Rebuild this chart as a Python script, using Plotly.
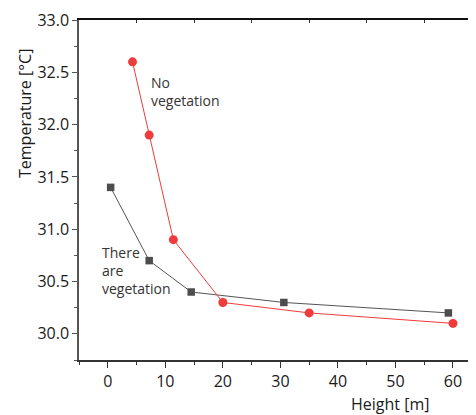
import plotly.graph_objects as go

# Data
height_no_veg = [4.3, 7.2, 11.4, 20.0, 35.0, 60.0]
temp_no_veg = [32.6, 31.9, 30.9, 30.3, 30.2, 30.1]
height_veg = [0.5, 7.2, 14.5, 30.6, 59.2]
temp_veg = [31.4, 30.7, 30.4, 30.3, 30.2]
x_ticks = [0, 10, 20, 30, 40, 50, 60]
y_ticks = [30.0, 30.5, 31.0, 31.5, 32.0, 32.5, 33.0]

RED = "#ee3b3b"
GRAY = "#4d4d4d"
FONT = "Open Sans"

fig = go.Figure()
fig.add_trace(go.Scatter(
    x=height_veg, y=temp_veg, mode="lines+markers",
    line=dict(color="#555555", width=1),
    marker=dict(symbol="square", size=7.5, color=GRAY),
    showlegend=False))
fig.add_trace(go.Scatter(
    x=height_no_veg, y=temp_no_veg, mode="lines+markers",
    line=dict(color=RED, width=1),
    marker=dict(symbol="circle", size=9, color=RED),
    showlegend=False))
# invisible trace on top axis
fig.add_trace(go.Scatter(x=[None], y=[None], xaxis="x2", showlegend=False))

OFF = 8  # page body margin
W, H = 476 - OFF, 415 - OFF
L, R, T, B = 79 - OFF, 0, 20 - OFF, 55

fig.update_layout(
    width=W, height=H,
    margin=dict(l=L, r=R, t=T, b=B),
    paper_bgcolor="white", plot_bgcolor="white",
    font=dict(family=FONT, size=16, color="#1a1a1a"),
    xaxis=dict(
        range=[-5, 64], tickvals=x_ticks, ticktext=[str(v) for v in x_ticks],
        showgrid=False, zeroline=False, showline=True, linecolor="#333333", linewidth=1.5,
        ticks="outside", ticklen=6, tickwidth=1.2, tickcolor="#333333",
        minor=dict(dtick=5, tick0=0, ticks="outside", ticklen=3, tickwidth=1, tickcolor="#333333"),
        tickfont=dict(size=16, family=FONT, color="#1a1a1a"),
    ),
    xaxis2=dict(
        overlaying="x", side="top", range=[-5, 64],
        tickvals=[5, 15, 25, 35, 45, 55], showticklabels=False,
        showgrid=False, zeroline=False, showline=True, linecolor="#111111", linewidth=1.5,
        ticks="inside", ticklen=3, tickwidth=1.2, tickcolor="#333333",
    ),
    yaxis=dict(
        range=[29.75, 33.0], tickvals=y_ticks, ticktext=[f"{v:.1f}" for v in y_ticks],
        showgrid=False, zeroline=False, showline=True, linecolor="#555555", linewidth=1.5,
        ticks="outside", ticklen=5, tickwidth=1.2, tickcolor="#555555",
        minor=dict(dtick=0.25, tick0=30, ticks="outside", ticklen=3, tickwidth=1, tickcolor="#555555"),
        tickfont=dict(size=16, family=FONT, color="#1a1a1a"),
    ),
)

pw = W - L - R
ph = H - T - B

def px_x(p):
    return (p - OFF - L) / pw

def px_y(p):
    return (H - B - (p - OFF)) / ph

fig.add_annotation(text="Temperature [°C]", textangle=-90, showarrow=False,
                   xref="paper", yref="paper", x=px_x(25), y=px_y(113),
                   xanchor="center", yanchor="middle",
                   font=dict(size=16, family=FONT, color="#1a1a1a"))
fig.add_annotation(text="Height [m]", showarrow=False,
                   xref="paper", yref="paper", x=px_x(390), y=px_y(404),
                   xanchor="center", yanchor="middle",
                   font=dict(size=16, family=FONT, color="#1a1a1a"))
fig.add_annotation(text="No<br>vegetation", showarrow=False, align="left",
                   xref="x", yref="y", x=7.2, y=32.32,
                   xanchor="left", yanchor="middle",
                   font=dict(size=14, family=FONT, color="#333333"))
fig.add_annotation(text="There<br>are<br>vegetation", showarrow=False, align="left",
                   xref="x", yref="y", x=-1.3, y=30.61,
                   xanchor="left", yanchor="middle",
                   font=dict(size=14, family=FONT, color="#333333"))

fig.write_html("out.html")
